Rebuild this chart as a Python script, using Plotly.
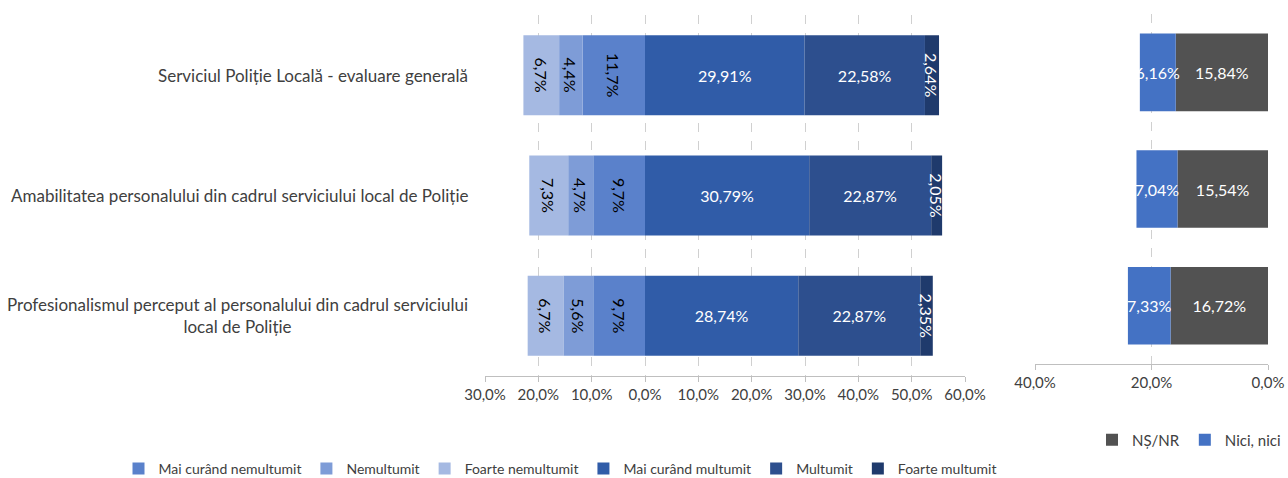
import plotly.graph_objects as go

categories = [
    "Serviciul Poliție Locală - evaluare generală",
    "Amabilitatea personalului din cadrul serviciului local de Poliție",
    "Profesionalismul perceput al personalului din cadrul serviciului<br>local de Poliție",
]

# Negative side (dissatisfied)
mai_curand_nemultumit = [11.7, 9.7, 9.7]
nemultumit = [4.4, 4.7, 5.6]
foarte_nemultumit = [6.7, 7.3, 6.7]
# Positive side (satisfied)
mai_curand_multumit = [29.91, 30.79, 28.74]
multumit = [22.58, 22.87, 22.87]
foarte_multumit = [2.64, 2.05, 2.35]
# Right panel
ns_nr = [15.84, 15.54, 16.72]
nici_nici = [6.16, 7.04, 7.33]

left_ticks = [-30, -20, -10, 0, 10, 20, 30, 40, 50, 60]
right_ticks = [40, 20, 0]

FONT = "Lato"
W, H = 1288, 478


def fx(px):
    return px / W


def fy(py):
    return 1 - py / H


def fmt(v, d):
    return (f"{abs(v):.{d}f}").replace(".", ",") + "%"


def tick_text(vals):
    return [fmt(v, 1) for v in vals]


fig = go.Figure()

neg_series = [
    ("Mai curând nemultumit", mai_curand_nemultumit, "#5a81cb"),
    ("Nemultumit", nemultumit, "#7e9cd7"),
    ("Foarte nemultumit", foarte_nemultumit, "#a5b9e2"),
]
for name, vals, col in neg_series:
    fig.add_trace(go.Bar(
        y=categories, x=[-v for v in vals], name=name, orientation="h",
        marker=dict(color=col, line=dict(width=0)),
        text=[fmt(v, 1) for v in vals], textposition="inside",
        insidetextanchor="middle", textangle=90, constraintext="none",
        textfont=dict(family=FONT, size=16, color="#000000"),
        xaxis="x", yaxis="y", legend="legend",
    ))

pos_series = [
    ("Mai curând multumit", mai_curand_multumit, "#305ca8", 0),
    ("Multumit", multumit, "#2d4f8e", 0),
    ("Foarte multumit", foarte_multumit, "#1f3a6c", 90),
]
for name, vals, col, ang in pos_series:
    fig.add_trace(go.Bar(
        y=categories, x=vals, name=name, orientation="h",
        marker=dict(color=col, line=dict(width=0)),
        text=[fmt(v, 2) for v in vals], textposition="inside",
        insidetextanchor="middle", textangle=ang, constraintext="none",
        textfont=dict(family=FONT, size=16, color="white"),
        xaxis="x", yaxis="y", legend="legend",
    ))

for name, vals, col in [("NȘ/NR", ns_nr, "#525252"), ("Nici, nici", nici_nici, "#4472c4")]:
    fig.add_trace(go.Bar(
        y=categories, x=vals, name=name, orientation="h",
        marker=dict(color=col, line=dict(width=0)),
        text=[fmt(v, 2) for v in vals], textposition="inside",
        insidetextanchor="middle", textangle=0, constraintext="none",
        textfont=dict(family=FONT, size=16, color="white"),
        xaxis="x2", yaxis="y2", legend="legend2",
    ))

axis_common = dict(
    showgrid=True, gridcolor="#d0d0d0", griddash="dash", gridwidth=1,
    showline=True, linecolor="#bfbfbf", linewidth=1,
    ticks="outside", ticklen=5, tickcolor="#bfbfbf",
    zeroline=False, tickfont=dict(family=FONT, size=15, color="#404040"),
)

fig.update_layout(
    width=W, height=H,
    margin=dict(l=0, r=0, t=0, b=0, autoexpand=False),
    paper_bgcolor="white", plot_bgcolor="white",
    barmode="relative", bargap=0.335,
    font=dict(family=FONT, size=14, color="#404040"),
    xaxis=dict(domain=[fx(485), fx(965)], range=[-30, 60], tickvals=left_ticks,
               ticktext=tick_text(left_ticks), anchor="y", **axis_common),
    yaxis=dict(domain=[fy(376), fy(15)], autorange="reversed",
               showticklabels=False, showgrid=False, showline=False, ticks="",
               anchor="x"),
    xaxis2=dict(domain=[fx(1035), fx(1268)], range=[40, 0], tickvals=right_ticks,
                ticktext=tick_text(right_ticks), anchor="y2", **axis_common),
    yaxis2=dict(domain=[fy(364), fy(14)], autorange="reversed",
                showticklabels=False, showgrid=False, showline=False, ticks="",
                anchor="x2"),
    legend=dict(orientation="h", x=fx(560), xanchor="center", y=fy(469),
                yanchor="middle", font=dict(family=FONT, size=14, color="#404040"),
                itemwidth=30, traceorder="normal", bgcolor="rgba(0,0,0,0)"),
    legend2=dict(orientation="h", x=fx(1286), xanchor="right", y=fy(440),
                 yanchor="middle", font=dict(family=FONT, size=15, color="#404040"),
                 itemwidth=30, traceorder="normal", bgcolor="rgba(0,0,0,0)"),
    showlegend=True,
)

for cat in categories:
    fig.add_annotation(
        x=fx(470), xref="paper", xanchor="right",
        y=cat, yref="y", yanchor="middle",
        text=cat, showarrow=False, align="center",
        font=dict(family=FONT, size=17, color="#404040"),
    )

fig.write_html(
    "out.html",
    config={"displayModeBar": False},
    post_script="document.body.style.margin='0';document.body.style.overflow='hidden';",
)
